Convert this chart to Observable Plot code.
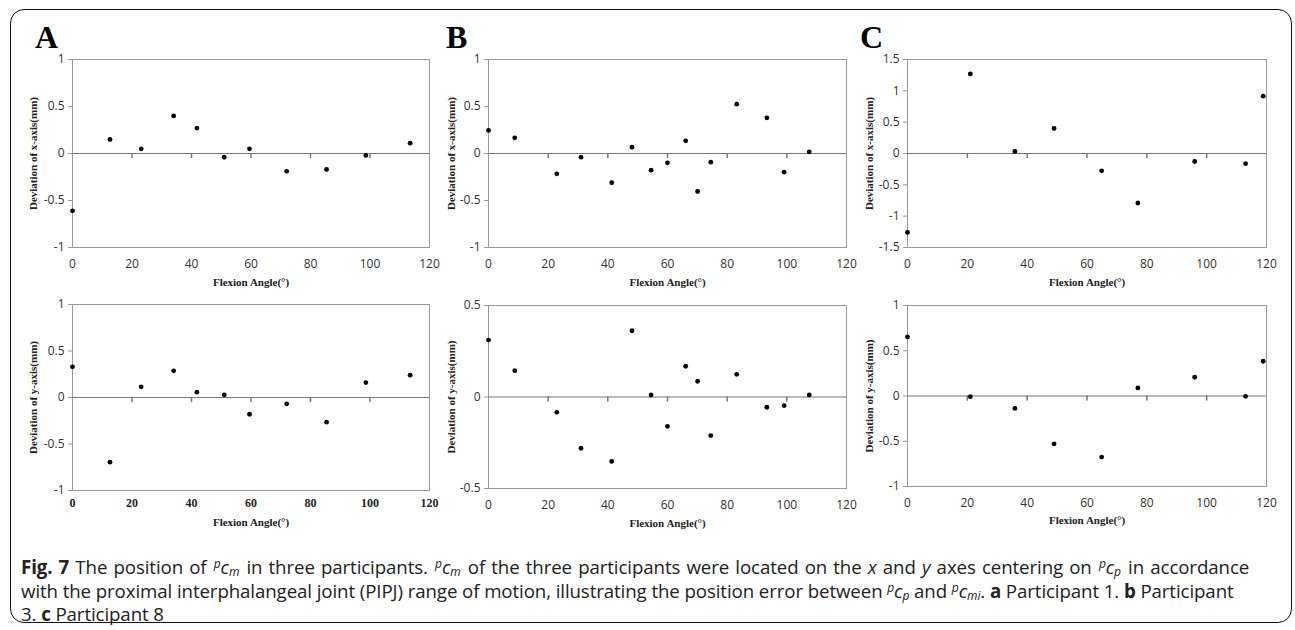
<!DOCTYPE html>
<html><head><meta charset="utf-8">
<script src="https://cdn.jsdelivr.net/npm/d3@7"></script>
<script src="https://cdn.jsdelivr.net/npm/@observablehq/plot@0.6"></script>
<style>
body{margin:0;background:#fff;}
#wrap{position:relative;width:1295px;height:630px;overflow:hidden;background:#fff;}
#border{position:absolute;left:10px;top:9px;width:1282px;height:614px;border:1.5px solid #111;border-radius:14px;box-sizing:border-box;}
.letter{position:absolute;font-family:"Liberation Serif",serif;font-weight:bold;font-size:32px;line-height:1;color:#000;}
.panel{position:absolute;}
#caption{position:absolute;left:21px;top:555px;font-family:"Open Sans",sans-serif;font-size:18.7px;line-height:23.5px;color:#222;white-space:nowrap;letter-spacing:-0.1px;}
#caption sup,#caption sub{font-size:12px;line-height:0;position:relative;vertical-align:baseline;}
#caption sup{top:-6px;} #caption sub{top:2px;}
#caption .f{margin:0 1px;}
#caption .l1{word-spacing:1.4px;}
</style></head>
<body>
<div id="wrap">
  <div id="border"></div>
  <div class="letter" style="left:35px;top:21px;">A</div>
  <div class="letter" style="left:446px;top:21px;">B</div>
  <div class="letter" style="left:860px;top:21px;">C</div>
  <div id="caption"><span class="l1"><b>Fig. 7</b> The position of <span class="f"><sup><i>p</i></sup><i>c</i><sub><i>m</i></sub></span> in three participants. <span class="f"><sup><i>p</i></sup><i>c</i><sub><i>m</i></sub></span> of the three participants were located on the <i>x</i> and <i>y</i> axes centering on <span class="f"><sup><i>p</i></sup><i>c</i><sub><i>p</i></sub></span> in accordance</span><br>with the proximal interphalangeal joint (PIPJ) range of motion, illustrating the position error between <sup><i>p</i></sup><i>c</i><sub><i>p</i></sub> and <sup><i>p</i></sup><i>c</i><sub><i>mi</i></sub>. <b>a</b> Participant 1. <b>b</b> Participant<br>3. <b>c</b> Participant 8</div>
</div>
<script>
// ---- data ----
const angleA = [0, 12.6, 23.1, 34, 41.8, 51, 59.5, 72, 85.4, 98.6, 113.5];
const devXA  = [-0.61, 0.15, 0.05, 0.40, 0.27, -0.04, 0.05, -0.19, -0.17, -0.02, 0.11];
const devYA  = [0.33, -0.695, 0.115, 0.287, 0.057, 0.029, -0.18, -0.068, -0.265, 0.161, 0.24];

const angleB = [0, 8.8, 22.9, 31, 41.3, 48.1, 54.5, 60, 66.1, 70.1, 74.5, 83.2, 93.3, 99.1, 107.5];
const devXB  = [0.245, 0.167, -0.216, -0.039, -0.31, 0.067, -0.177, -0.099, 0.135, -0.404, -0.092, 0.525, 0.38, -0.199, 0.018];
const devYB  = [0.311, 0.144, -0.084, -0.28, -0.352, 0.362, 0.011, -0.16, 0.168, 0.086, -0.211, 0.124, -0.056, -0.047, 0.011];

const angleC = [0, 21, 35.9, 49, 64.9, 77, 96, 113, 118.9];
const devXC  = [-1.26, 1.27, 0.032, 0.40, -0.277, -0.79, -0.128, -0.16, 0.915];
const devYC  = [0.653, -0.007, -0.137, -0.528, -0.675, 0.089, 0.207, -0.004, 0.384];

const xTicks   = [0, 20, 40, 60, 80, 100, 120];
const yTicks1  = [-1, -0.5, 0, 0.5, 1];
const yTicks05 = [-0.5, 0, 0.5];
const yTicks15 = [-1.5, -1, -0.5, 0, 0.5, 1, 1.5];

const xTitle  = "Flexion Angle(°)";
const yTitleX = "Deviation of x-axis(mm)";
const yTitleY = "Deviation of y-axis(mm)";

// ---- drawing ----
const wrap = document.getElementById("wrap");
const fmt = d => String(d);
const sansTick = {fontFamily: "Open Sans, sans-serif", fontSize: 12, fill: "#333"};
const serifTick = {fontFamily: "Liberation Serif, serif", fontSize: 12, fontWeight: "bold", fill: "#222"};
const titleFont = {fontFamily: "Liberation Serif, serif", fontWeight: "bold", fontSize: 11, fill: "#222", textAnchor: "middle", lineAnchor: "middle"};
const tickShape = {draw(ctx, l) { ctx.moveTo(0, 0); ctx.lineTo(0, l); }};

function panel(c) {
  const data = c.xs.map((x, i) => ({angle: x, dev: c.ys[i]}));
  const chart = Plot.plot({
    width: c.width, height: c.height,
    marginLeft: c.mL, marginRight: c.mR, marginTop: c.mT, marginBottom: c.mB,
    style: {background: "transparent", overflow: "visible"},
    x: {domain: [0, 120]},
    y: {domain: c.yDomain},
    marks: [
      Plot.frame({stroke: "#9a9a9a"}),
      Plot.ruleY([0], {stroke: "#777"}),
      Plot.vector(xTicks.filter(t => t > 0 && t < 120), {x: d => d, y: 0, length: 4, anchor: "start", stroke: "#777", shape: tickShape}),
      Plot.axisY(c.yTicks, {tickSize: 4, tickPadding: 4, tickFormat: fmt, stroke: "#9a9a9a", label: null, ...sansTick}),
      Plot.axisX(xTicks, {tickSize: 0, tickPadding: c.xPad, tickFormat: fmt, label: null, ...(c.serif ? serifTick : sansTick)}),
      Plot.dot(data, {x: "angle", y: "dev", r: 2.4, fill: "#000", stroke: null}),
      Plot.text([xTitle], {text: d => d, frameAnchor: "bottom", dy: c.titleDy, ...titleFont}),
      Plot.text([c.yTitle], {text: d => d, frameAnchor: "left", rotate: -90, dx: c.yTitleDx, ...titleFont})
    ]
  });
  const div = document.createElement("div");
  div.className = "panel";
  div.style.left = c.left + "px";
  div.style.top = c.top + "px";
  div.appendChild(chart);
  wrap.appendChild(div);
}

// top row
panel({xs: angleA, ys: devXA, yDomain: [-1, 1], yTicks: yTicks1, yTitle: yTitleX,
  left: 0, top: 40, width: 440, height: 250, mL: 72, mR: 11, mT: 19, mB: 43, xPad: 12, titleDy: 35, yTitleDx: -39});
panel({xs: angleB, ys: devXB, yDomain: [-1, 1], yTicks: yTicks1, yTitle: yTitleX,
  left: 432, top: 40, width: 424, height: 250, mL: 56, mR: 10, mT: 19, mB: 43, xPad: 12, titleDy: 35, yTitleDx: -37});
panel({xs: angleC, ys: devXC, yDomain: [-1.5, 1.5], yTicks: yTicks15, yTitle: yTitleX,
  left: 856, top: 40, width: 420, height: 250, mL: 51, mR: 10, mT: 19, mB: 43, xPad: 12, titleDy: 35, yTitleDx: -38});
// bottom row
panel({xs: angleA, ys: devYA, yDomain: [-1, 1], yTicks: yTicks1, yTitle: yTitleY,
  left: 0, top: 290, width: 440, height: 240, mL: 72, mR: 11, mT: 14, mB: 40, xPad: 8, titleDy: 32, yTitleDx: -39, serif: true});
panel({xs: angleB, ys: devYB, yDomain: [-0.5, 0.5], yTicks: yTicks05, yTitle: yTitleY,
  left: 432, top: 290, width: 424, height: 240, mL: 56, mR: 10, mT: 15, mB: 42, xPad: 11.5, titleDy: 34.5, yTitleDx: -37});
panel({xs: angleC, ys: devYC, yDomain: [-1, 1], yTicks: yTicks1, yTitle: yTitleY,
  left: 856, top: 290, width: 420, height: 240, mL: 51, mR: 10, mT: 15, mB: 44, xPad: 11.5, titleDy: 34, yTitleDx: -38});
</script>
</body></html>
